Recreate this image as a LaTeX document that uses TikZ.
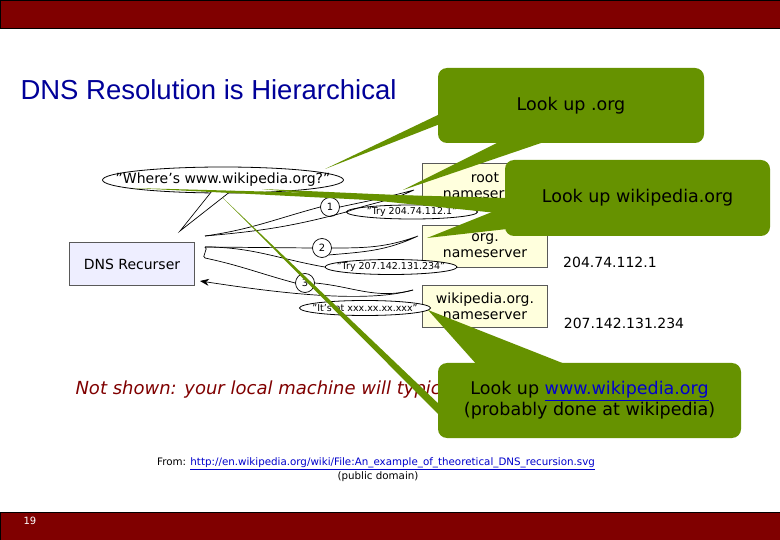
\documentclass[tikz,border=0pt]{standalone}
\usepackage{fontspec}
\setmainfont{DejaVu Sans}
\newfontfamily\titlefont{Liberation Sans}
\usepackage{tikz}
\usetikzlibrary{arrows.meta,shapes.geometric}

\definecolor{slidered}{RGB}{128,0,0}
\definecolor{calloutgreen}{RGB}{102,146,0}
\definecolor{titleblue}{RGB}{0,0,153}
\definecolor{serverfill}{RGB}{255,255,221}
\definecolor{recfill}{RGB}{238,238,255}
\definecolor{linkblue}{RGB}{0,0,204}

\tikzset{
  bar/.style={fill=slidered, draw=black, line width=0.8pt},
  server/.style={draw=gray!70!black, fill=serverfill, line width=0.8pt, minimum width=125pt, align=center, inner sep=0pt, font=\fontsize{14}{16}\selectfont},
  bubble/.style={ellipse, draw=black, fill=white, line width=0.8pt, inner sep=-40pt},
  smalltext/.style={font=\fontsize{9.5}{10}\selectfont},
  numcircle/.style={circle, draw=black, fill=white, line width=0.7pt, minimum size=19pt, inner sep=0pt, font=\fontsize{10}{10}\selectfont},
  stroke/.style={draw=black, line width=0.7pt},
  callout/.style={fill=calloutgreen, rounded corners=9pt, align=center, font=\fontsize{17.5}{21}\selectfont},
  wedge/.style={fill=calloutgreen},
}

\begin{document}
\begin{tikzpicture}[x=1pt,y=-1pt]
\useasboundingbox (0,0) rectangle (780,540);
\fill[white] (0,0) rectangle (780,540);
% slide frame
\draw[bar] (0,0) rectangle (780,28);
\draw[bar] (0,512) rectangle (780,540);
\node[anchor=west, text=white, font=\fontsize{10}{10}\selectfont] (pg) at (20,521) {19};
\node[anchor=west, text=titleblue, font=\titlefont\fontsize{27.5}{27.5}\selectfont] (title) at (17,90) {DNS Resolution is Hierarchical};

% recursion diagram
\node[draw=gray!70!black, fill=recfill, line width=0.8pt, minimum width=125pt, minimum height=43pt, font=\fontsize{14}{14}\selectfont] (rec) at (132,264) {DNS Recurser};
\node[server, minimum height=45pt] (root) at (485,185.5) {root\\nameserver};
\node[server, minimum height=42pt] (org) at (485,246) {org.\\nameserver};
\node[server, minimum height=42pt] (wiki) at (485,306) {wikipedia.org.\\nameserver};
\node[font=\fontsize{14}{14}\selectfont] (ip1) at (610,262) {204.74.112.1};
\node[font=\fontsize{14}{14}\selectfont] (ip2) at (624,323) {207.142.131.234};

\node[bubble, minimum width=241pt, minimum height=26pt, font=\fontsize{14}{14}\selectfont] (where) at (223,180) {"Where's www.wikipedia.org?"};
\draw[stroke, fill=white] (212,191) -- (180,231) -- (231,191);

\coordinate (q1) at (205,236);
\coordinate (q2) at (205,247);
\coordinate (q3) at (205,258);
\coordinate (a3) at (200,281);
\coordinate (tip1) at (414,190);
\coordinate (tip2) at (418,236);
\coordinate (tip3) at (413,290);

\node[bubble, minimum width=131pt, minimum height=14pt, smalltext] (try1) at (412,212) {"Try 204.74.112.1"};
\node[bubble, minimum width=132pt, minimum height=15pt, smalltext] (try2) at (391,267) {"Try 207.142.131.234"};
\node[bubble, minimum width=131pt, minimum height=15pt, smalltext] (itsat) at (365,308) {"It's at xxx.xx.xx.xxx"};
\node[numcircle] (n1) at (330,207) {1};
\node[numcircle] (n2) at (322,248) {2};
\node[numcircle] (n3) at (305,283) {3};

\draw[stroke] (q1) to[out=8,in=195] (n1.west);
\draw[stroke] (n1.east) to[out=12,in=195] (tip1) to[out=205,in=20] (try1.west);
\draw[stroke] (try1.west) to[out=195,in=5] (q1);
\draw[stroke] (q2) -- (n2.west);
\draw[stroke] (n2.east) to[out=0,in=200] (tip2) to[out=205,in=5] (n2.south east);
\draw[stroke] (try2.west) to[out=170,in=0] (q2);
\draw[stroke] (q2) to[out=-5,in=180] (q3);
\draw[stroke] (q3) to[out=-12,in=165] (n3.west);
\draw[stroke] (n3.east) to[out=-5,in=195] (tip3);
\draw[stroke, -{Stealth[length=9pt,width=7pt]}] (tip3) .. controls (360,305) and (260,290) .. (a3);

\node[anchor=west, text=slidered, font=\fontsize{18}{18}\selectfont\itshape] (note) at (72,390) {Not shown: your local machine will typic};

\node[font=\fontsize{10.3}{12}\selectfont] (src) at (376,464) {From: {\color{linkblue}\underline{http://en.wikipedia.org/wiki/File:An\_example\_of\_theoretical\_DNS\_recursion.svg}}};
\node[font=\fontsize{10.3}{12}\selectfont] (pd) at (378,477) {(public domain)};

% callouts
\fill[wedge] (440,114) -- (325,169) -- (440,124) -- cycle;
\fill[wedge] (499,142) -- (403,190) -- (544,142) -- cycle;
\node[callout, minimum width=266pt, minimum height=75pt] (ca) at (571,105.5) {Look up .org};

\fill[wedge] (507,200) -- (262,189) -- (507,214) -- cycle;
\fill[wedge] (507,198) -- (132,188) -- (507,207) -- cycle;
\fill[wedge] (507,206) -- (427,238) -- (507,229) -- cycle;
\node[callout, minimum width=265pt, minimum height=76pt] (cb) at (637.5,198) {Look up wikipedia.org};

\fill[wedge] (442,407) -- (222,197) -- (442,418) -- cycle;
\fill[wedge] (478,366) -- (428,310) -- (570,366) -- cycle;
\node[callout, minimum width=303pt, minimum height=75pt] (cc) at (589.5,400.5) {Look up {\color{linkblue}\underline{www.wikipedia.org}}\\(probably done at wikipedia)};
\end{tikzpicture}
\end{document}
